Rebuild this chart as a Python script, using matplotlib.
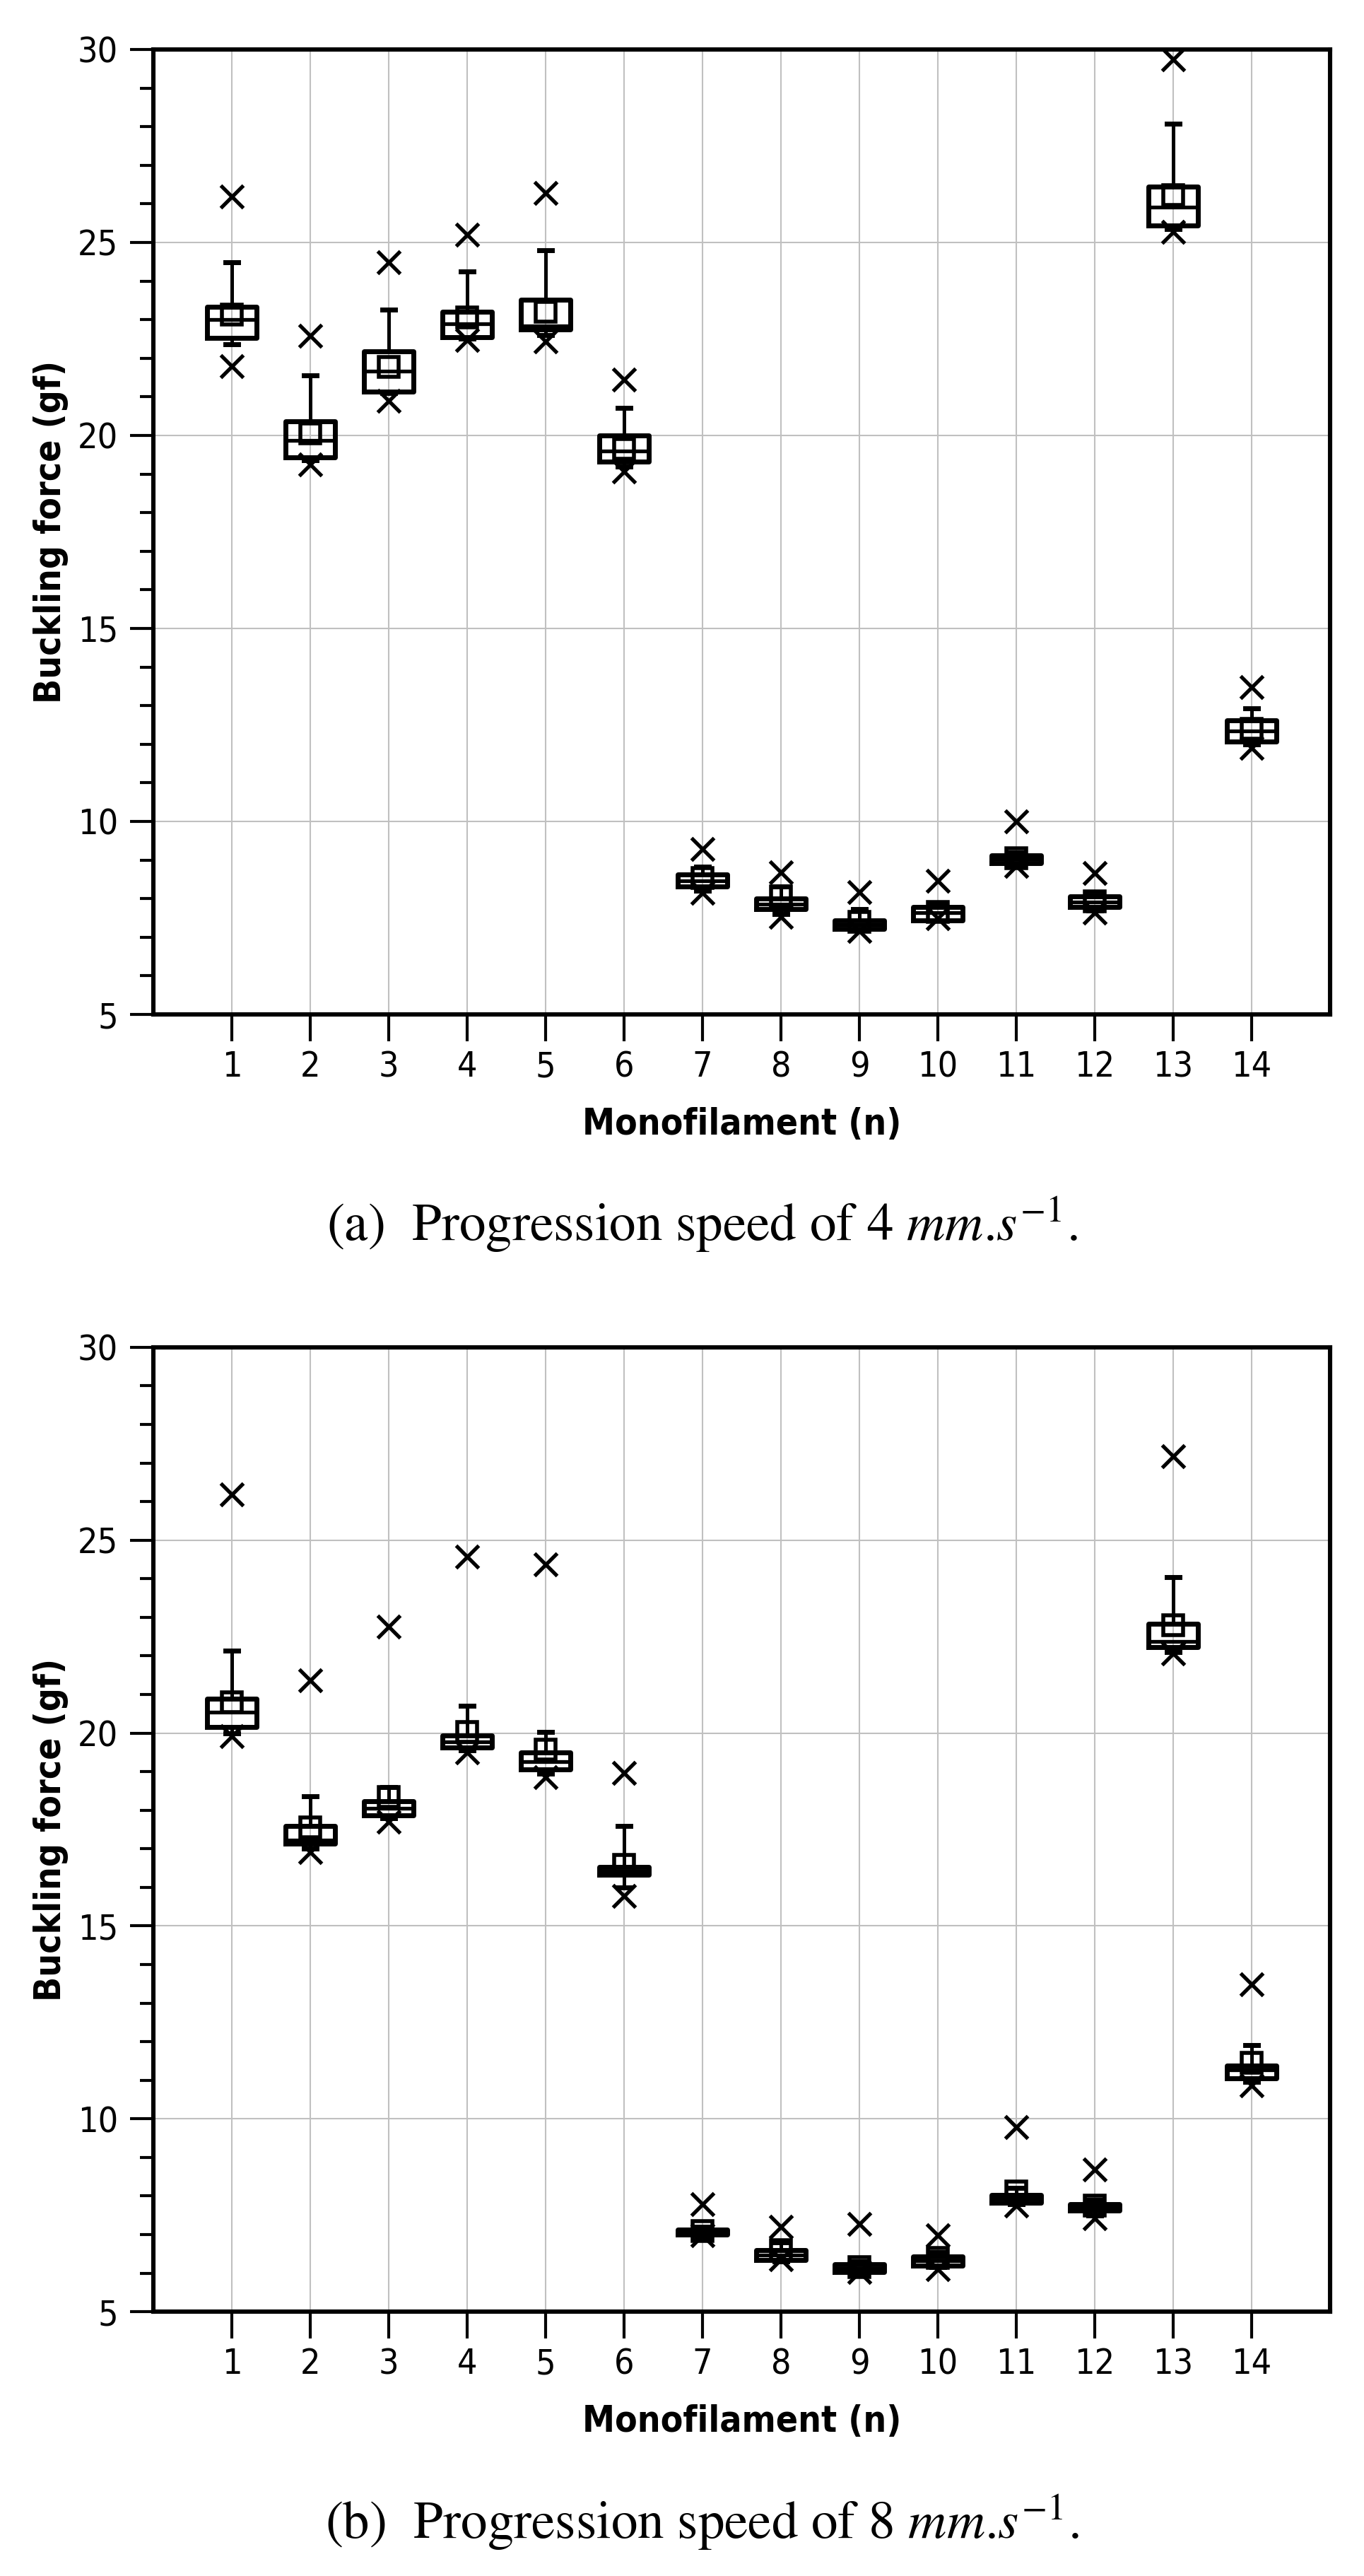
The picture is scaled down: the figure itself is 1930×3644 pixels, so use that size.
import matplotlib
matplotlib.use("Agg")
import matplotlib.pyplot as plt
from matplotlib.ticker import MultipleLocator, AutoMinorLocator

# monofilament index
n = list(range(1, 15))

# --- (a) progression speed 4 mm/s ---
q1_a     = [22.53, 19.44, 21.14, 22.55, 22.75, 19.32, 8.31, 7.72, 7.22, 7.44, 8.92, 7.79, 25.43, 12.07]
med_a    = [23.00, 19.88, 21.67, 22.89, 22.83, 19.60, 8.47, 7.86, 7.32, 7.63, 9.03, 7.91, 25.92, 12.34]
q3_a     = [23.33, 20.37, 22.17, 23.21, 23.51, 20.00, 8.63, 8.00, 7.44, 7.79, 9.13, 8.05, 26.44, 12.62]
mean_a   = [23.14, 20.05, 21.78, 23.05, 23.20, 19.65, 8.54, 8.05, 7.40, 7.66, 9.04, 7.93, 26.23, 12.40]
whishi_a = [24.48, 21.55, 23.26, 24.25, 24.80, 20.72, 8.82, 8.31, 7.72, 7.90, 9.20, 8.10, 28.07, 12.93]
whislo_a = [22.36, 19.35, 21.10, 22.50, 22.60, 19.20, 8.20, 7.60, 7.18, 7.44, 8.88, 7.70, 25.35, 12.00]
max_a    = [26.19, 22.58, 24.48, 25.20, 26.28, 21.45, 9.29, 8.68, 8.17, 8.47, 10.00, 8.66, 29.74, 13.48]
min_a    = [21.80, 19.25, 20.90, 22.48, 22.44, 19.06, 8.15, 7.53, 7.16, 7.50, 8.85, 7.63, 25.27, 11.90]

# --- (b) progression speed 8 mm/s ---
q1_b     = [20.16, 17.13, 17.86, 19.62, 19.05, 16.33, 7.00, 6.34, 6.02, 6.20, 7.83, 7.62, 22.23, 11.05]
med_b    = [20.55, 17.23, 18.05, 19.78, 19.25, 16.42, 7.07, 6.46, 6.12, 6.32, 7.93, 7.70, 22.37, 11.27]
q3_b     = [20.89, 17.60, 18.23, 19.94, 19.50, 16.52, 7.12, 6.60, 6.23, 6.43, 8.02, 7.79, 22.83, 11.38]
mean_b   = [20.79, 17.55, 18.34, 20.02, 19.57, 16.58, 7.10, 6.60, 6.15, 6.40, 8.11, 7.75, 22.80, 11.46]
whishi_b = [22.13, 18.36, 18.60, 20.71, 20.02, 17.60, 7.20, 6.80, 6.30, 6.55, 8.20, 7.90, 24.05, 11.91]
whislo_b = [20.00, 17.00, 17.80, 19.55, 18.95, 16.00, 6.95, 6.30, 5.98, 6.15, 7.78, 7.50, 22.10, 10.95]
max_b    = [26.18, 21.36, 22.76, 24.58, 24.37, 18.97, 7.79, 7.21, 7.28, 6.99, 9.78, 8.69, 27.18, 13.48]
min_b    = [19.92, 16.92, 17.71, 19.50, 18.86, 15.78, 6.98, 6.35, 6.02, 6.10, 7.75, 7.42, 22.07, 10.86]

captions = [r"(a)  Progression speed of 4 $mm$.$s^{-1}$.",
            r"(b)  Progression speed of 8 $mm$.$s^{-1}$."]

plt.rcParams["mathtext.fontset"] = "stix"

fig = plt.figure(figsize=(19.31, 36.44), dpi=100)

# axes boxes in figure fraction (left, bottom, width, height)
rects = [[0.1124, 0.6062, 0.8622, 0.3746],
         [0.1124, 0.1026, 0.8622, 0.3744]]
cap_y = [0.5181, 0.0143]   # caption baselines

panels = [(q1_a, med_a, q3_a, mean_a, whislo_a, whishi_a, min_a, max_a),
          (q1_b, med_b, q3_b, mean_b, whislo_b, whishi_b, min_b, max_b)]

lab_font = dict(family="DejaVu Sans", fontstretch="condensed")

for k, (q1, med, q3, mean, wlo, whi, mn, mx) in enumerate(panels):
    ax = fig.add_axes(rects[k])
    stats = []
    for i in range(len(n)):
        stats.append(dict(q1=q1[i], med=med[i], q3=q3[i], mean=mean[i],
                          whislo=wlo[i], whishi=whi[i], fliers=[mn[i], mx[i]]))
    ax.bxp(stats, positions=n, widths=0.63, capwidths=0.17,
           showmeans=True, showfliers=True, manage_ticks=False,
           boxprops=dict(color="black", linewidth=5.0),
           whiskerprops=dict(color="black", linewidth=3.6),
           capprops=dict(color="black", linewidth=5.0),
           medianprops=dict(color="black", linewidth=3.8),
           meanprops=dict(marker="s", markerfacecolor="none", markeredgecolor="black",
                          markeredgewidth=4.0, markersize=20),
           flierprops=dict(marker="x", markeredgecolor="black", markeredgewidth=3.8,
                           markersize=23, linestyle="none"))

    ax.set_xlim(0, 15)
    ax.set_ylim(5, 30)
    ax.set_xticks(n)
    ax.yaxis.set_major_locator(MultipleLocator(5))
    ax.yaxis.set_minor_locator(AutoMinorLocator(5))
    ax.grid(True, which="major", color="#c0c0c0", linewidth=1.5)
    ax.set_axisbelow(True)
    for s in ax.spines.values():
        s.set_linewidth(4.4)
        s.set_zorder(5)
    ax.tick_params(axis="both", which="major", direction="out", width=3,
                   labelsize=36, colors="black")
    ax.tick_params(axis="x", which="major", length=27, pad=9)
    ax.tick_params(axis="y", which="major", length=24, pad=12)
    ax.tick_params(axis="y", which="minor", direction="out", length=14, width=3)
    for lab in ax.get_xticklabels() + ax.get_yticklabels():
        lab.set_family("DejaVu Sans")
        lab.set_fontstretch("condensed")

    ax.set_xlabel("Monofilament (n)", fontsize=37, fontweight="bold", **lab_font)
    ax.xaxis.label.set_va("baseline")
    ax.xaxis.set_label_coords(0.5, -170 / 1365)
    ax.set_ylabel("Buckling force (gf)", fontsize=37, fontweight="bold", **lab_font)
    ax.yaxis.label.set_va("center")
    ax.yaxis.set_label_coords(-0.087, 0.5)

    fig.text(0.5146, cap_y[k], captions[k], ha="center", va="baseline",
             fontsize=54, family="STIXGeneral")

fig.savefig("out.png", dpi=100)
